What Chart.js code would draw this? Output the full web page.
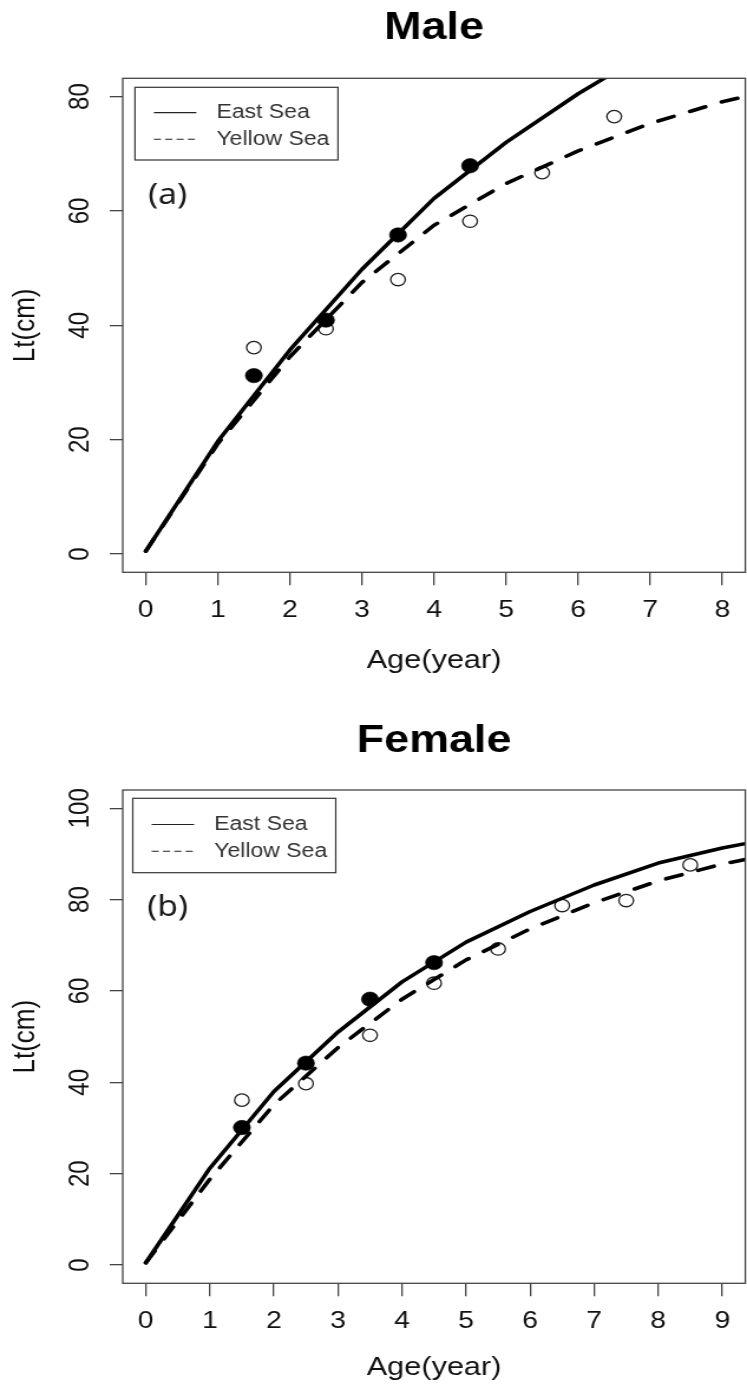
<!DOCTYPE html>
<html><head><meta charset="utf-8">
<script src="https://cdn.jsdelivr.net/npm/chart.js@4"></script>
<style>
html,body{margin:0;padding:0;background:#fff;}
canvas{display:block;}
</style></head><body>
<canvas id="male" width="633" height="696" style="width:747px;height:696px"></canvas>
<canvas id="female" width="633" height="696" style="width:747px;height:696px"></canvas>
<script>
// ---- data ----
const curveAges = [0, 1, 2, 3, 4, 5, 6, 7, 8, 9, 10];
const maleEastCurve = [0.5, 19.7, 35.7, 49.8, 62.2, 72.0, 80.5, 88.0];
const maleYellowCurve = [0.5, 19.3, 34.5, 47.5, 57.5, 64.8, 70.5, 75.3, 79.1, 82.0];
const femaleEastCurve = [0.5, 21.2, 38.0, 51.0, 62.0, 70.7, 77.4, 83.2, 88.0, 91.3, 94.0];
const femaleYellowCurve = [0.5, 18.8, 35.1, 47.6, 58.2, 66.8, 73.6, 79.3, 84.1, 87.8, 90.5];
const obsAges = [1.5, 2.5, 3.5, 4.5, 5.5, 6.5, 7.5, 8.5];
const maleEastObs = [31.2, 40.9, 55.8, 67.9];
const maleYellowObs = [36.1, 39.4, 48.0, 58.2, 66.7, 76.5];
const femaleEastObs = [30.1, 44.2, 58.2, 66.2];
const femaleYellowObs = [36.1, 39.7, 50.3, 61.7, 69.2, 78.7, 79.8, 87.6];
const maleXTicks = [0, 1, 2, 3, 4, 5, 6, 7, 8];
const maleYTicks = [0, 20, 40, 60, 80];
const femaleXTicks = [0, 1, 2, 3, 4, 5, 6, 7, 8, 9];
const femaleYTicks = [0, 20, 40, 60, 80, 100];
const maleXRange = [-0.32, 8.32];
const maleYRange = [-3.2, 83.2];
const femaleXRange = [-0.36, 9.36];
const femaleYRange = [-4, 104];
const seriesLabels = ['East Sea', 'Yellow Sea'];
const panelTitles = ['Male', 'Female'];
const panelTags = ['(a)', '(b)'];
const xAxisTitle = 'Age(year)';
const yAxisTitle = 'Lt(cm)';

// ---- styling ----
const FONT = '"Liberation Sans", Arial, Helvetica, sans-serif';
const TICK_SIZE = 24;
Chart.defaults.font.family = FONT;

function pts(xs, ys) { return ys.map((v, i) => ({x: xs[i], y: v})); }

const mctx = document.createElement('canvas').getContext('2d');
mctx.font = TICK_SIZE + 'px ' + FONT;
function widest(labels) { return Math.max(...labels.map(l => mctx.measureText(String(l)).width)); }

const framePlugin = {
  id: 'frame',
  afterDatasetsDraw(chart, args, o) {
    const {ctx, chartArea: a} = chart;
    ctx.save();
    ctx.strokeStyle = '#444';
    ctx.lineWidth = 1.3;
    ctx.strokeRect(a.left, a.top, a.right - a.left, a.bottom - a.top);
    // legend box
    const lx = a.left + o.dx, ly = a.top + o.dy, lw = 172, lh = o.h;
    ctx.fillStyle = '#fff';
    ctx.fillRect(lx, ly, lw, lh);
    ctx.strokeStyle = '#333';
    ctx.lineWidth = 1.2;
    ctx.strokeRect(lx, ly, lw, lh);
    const rows = [ly + o.r1, ly + o.r2];
    ctx.strokeStyle = '#222';
    ctx.lineWidth = 1.1;
    rows.forEach((ry, i) => {
      ctx.setLineDash(i === 0 ? [] : [6, 3.6]);
      ctx.beginPath();
      ctx.moveTo(lx + 16, ry);
      ctx.lineTo(lx + 52, ry);
      ctx.stroke();
    });
    ctx.setLineDash([]);
    ctx.fillStyle = '#333';
    ctx.font = '19.5px ' + FONT;
    ctx.textAlign = 'left';
    ctx.textBaseline = 'middle';
    rows.forEach((ry, i) => ctx.fillText(seriesLabels[i], lx + 69, ry));
    // panel tag
    ctx.fillStyle = '#1a1a1a';
    ctx.font = '28.5px "Noto Sans", ' + FONT;
    ctx.textAlign = 'center';
    ctx.fillText(o.tag, a.left + 38, a.top + 118);
    ctx.restore();
  }
};

function makeChart(id, c) {
  const yPad = 24.4 - widest(c.yTicks) / 2;
  return new Chart(document.getElementById(id), {
    type: 'scatter',
    data: {
      datasets: [
        {label: seriesLabels[0], type: 'line', data: pts(curveAges, c.eastCurve), borderColor: '#000',
         borderWidth: 3.6, pointRadius: 0, tension: 0, fill: false, borderCapStyle: 'round', borderJoinStyle: 'round', order: 1},
        {label: seriesLabels[1], type: 'line', data: pts(curveAges, c.yellowCurve), borderColor: '#000',
         borderWidth: 3.6, borderDash: [14, 14.5], pointRadius: 0, tension: 0, fill: false, borderCapStyle: 'round', borderJoinStyle: 'round', order: 2},
        {label: seriesLabels[0] + ' obs', data: pts(obsAges, c.eastObs), showLine: false, pointRadius: 7.2,
         pointBackgroundColor: '#000', pointBorderColor: '#000', pointBorderWidth: 0.6, order: 3},
        {label: seriesLabels[1] + ' obs', data: pts(obsAges, c.yellowObs), showLine: false, pointRadius: 6.2,
         pointBackgroundColor: 'rgba(0,0,0,0)', pointBorderColor: '#222', pointBorderWidth: 1.3, order: 4}
      ]
    },
    options: {
      responsive: false,
      devicePixelRatio: 1,
      animation: false,
      events: [],
      layout: {padding: {left: 0, right: 1.4, top: 0, bottom: 0}, autoPadding: false},
      plugins: {
        legend: {display: false},
        tooltip: {enabled: false},
        title: {display: true, text: c.title, fullSize: false, color: '#000',
                font: {family: FONT, size: 38, weight: 'bold', lineHeight: 1.2},
                padding: {top: c.titleTop, bottom: c.titleBottom}},
        frame: {dx: c.legDx, dy: c.legDy, h: c.legH, r1: c.r1, r2: c.r2, tag: c.tag}
      },
      scales: {
        x: {
          type: 'linear', position: 'bottom', min: c.xRange[0], max: c.xRange[1],
          afterBuildTicks: s => { s.ticks = c.xTicks.map(v => ({value: v})); },
          afterFit: s => { s.height = c.xAxisHeight; },
          grid: {display: true, drawOnChartArea: false, drawTicks: true, tickLength: 13, color: '#444', tickColor: '#444', lineWidth: 1.3},
          border: {display: false},
          ticks: {font: {family: FONT, size: TICK_SIZE}, color: '#111', padding: 10.8, maxRotation: 0, autoSkip: false},
          title: {display: true, text: xAxisTitle, color: '#111', font: {family: FONT, size: 26}, padding: {top: 0, bottom: c.xTitlePad}}
        },
        y: {
          type: 'linear', position: 'left', min: c.yRange[0], max: c.yRange[1],
          afterBuildTicks: s => { s.ticks = c.yTicks.map(v => ({value: v})); },
          afterFit: s => { s.width = 104; },
          grid: {display: true, drawOnChartArea: false, drawTicks: true, tickLength: 11, color: '#444', tickColor: '#444', lineWidth: 1.3},
          border: {display: false},
          ticks: {font: {family: FONT, size: TICK_SIZE}, color: '#111', padding: yPad, minRotation: 90, maxRotation: 90, crossAlign: 'center', autoSkip: false},
          title: {display: true, text: yAxisTitle, color: '#111', font: {family: FONT, size: 26}, padding: {top: 6.4, bottom: 0}}
        }
      }
    },
    plugins: [framePlugin]
  });
}

makeChart('male', {
  title: panelTitles[0], tag: panelTags[0],
  eastCurve: maleEastCurve, yellowCurve: maleYellowCurve, eastObs: maleEastObs, yellowObs: maleYellowObs,
  xTicks: maleXTicks, yTicks: maleYTicks, xRange: maleXRange, yRange: maleYRange,
  titleTop: 5.7, titleBottom: 27, xAxisHeight: 123.7, xTitlePad: 19.6,
  legDx: 10.4, legDy: 9, legH: 72.7, r1: 25.3, r2: 52
});
makeChart('female', {
  title: panelTitles[1], tag: panelTags[1],
  eastCurve: femaleEastCurve, yellowCurve: femaleYellowCurve, eastObs: femaleEastObs, yellowObs: femaleYellowObs,
  xTicks: femaleXTicks, yTicks: femaleYTicks, xRange: femaleXRange, yRange: femaleYRange,
  titleTop: 23, titleBottom: 25.4, xAxisHeight: 108.7, xTitlePad: 8.6,
  legDx: 8.5, legDy: 8.3, legH: 74.4, r1: 26.2, r2: 52.9
});
</script>
</body></html>
